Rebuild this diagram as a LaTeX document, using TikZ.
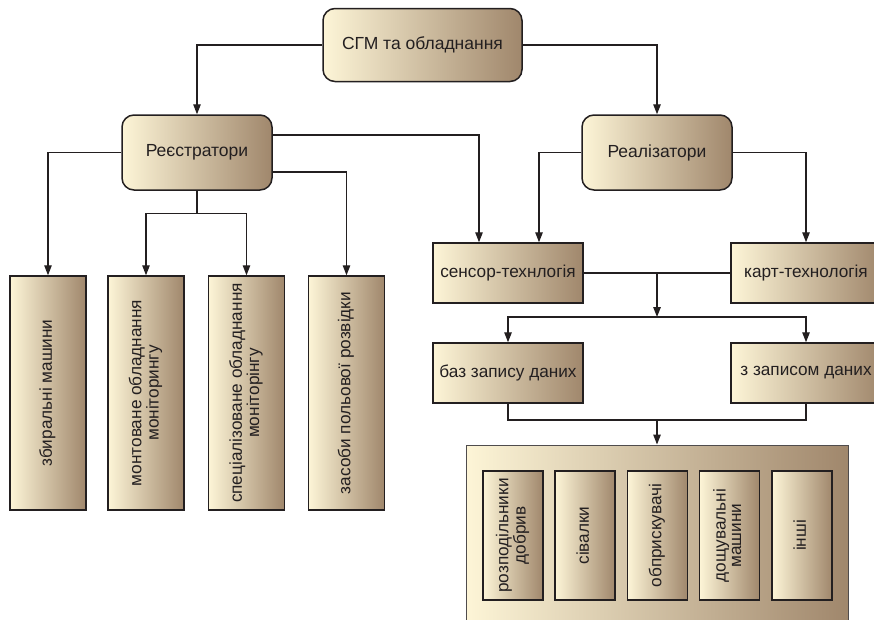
\documentclass[tikz,border=0pt]{standalone}
\usepackage{fontspec}
\setmainfont{Liberation Sans}
\usetikzlibrary{arrows.meta}
\usetikzlibrary{calc}

\definecolor{sandlight}{RGB}{253,245,215}
\definecolor{sanddark}{RGB}{160,135,108}
\definecolor{inkgray}{RGB}{35,31,32}

\newcommand{\vlab}[1]{\rotatebox{90}{\begin{tabular}{@{}c@{}}#1\end{tabular}}}

\tikzset{
  box/.style={draw=inkgray, line width=1.5pt, left color=sandlight, right color=sanddark,
    text=inkgray, inner sep=0pt, font=\fontsize{17.2}{15.5}\selectfont},
  rbox/.style={box, rounded corners=12pt, minimum width=150pt, minimum height=75pt,
    font=\fontsize{17.5}{16}\selectfont},
  hbox/.style={box, minimum width=150pt, minimum height=60pt},
  vbox/.style={box, minimum width=76pt, minimum height=234pt},
  sbox/.style={box, minimum width=60pt, minimum height=129pt},
  conn/.style={draw=inkgray, line width=1.3pt},
  arr/.style={conn, -{Triangle[length=10pt,width=7.5pt]}},
}

\begin{document}
\begin{tikzpicture}[x=1pt, y=-1pt]
  \clip (0,0) rectangle (874,619);

  \node[rbox, minimum width=199pt, minimum height=73pt] (sgm) at (422.5,45) {СГМ та обладнання};
  \node[rbox] (reg) at (197,152.5) {Реєстратори};
  \node[rbox] (real) at (657,152.5) {Реалізатори};

  % реєстратори
  \foreach \x/\nm/\lab in {48/b1/{збиральні машини},
      146/b2/{монтоване обладнання\\моніторингу},
      246.5/b3/{спеціалізоване обладнання\\моніторінгу},
      346.5/b4/{засоби польової розвідки}}
    \node[vbox] (\nm) at (\x,393) {\vlab{\lab}};

  % реалізатори
  \node[hbox] (sens) at (508,273) {сенсор-технлогія};
  \node[hbox] (kart) at (806,273) {карт-технологія};
  \node[hbox] (baz) at (508,373) {баз запису даних};
  \node[hbox] (zap) at (806,373) {з записом даних};

  \node[draw=inkgray!80, line width=1pt, left color=sandlight, right color=sanddark,
    minimum width=382pt, minimum height=200pt] (big) at (657,545) {};
  \foreach \x/\nm/\lab in {513/m1/{розподільники\\добрив}, 585/m2/{сівалки},
      657.5/m3/{обприскувачі}, 729.5/m4/{дощувальні\\машини}, 802/m5/{інші}}
    \node[sbox] (\nm) at (\x,535.5) {\vlab{\lab}};

  % connectors
  \draw[arr] (sgm.west) -| (reg.north);
  \draw[arr] (sgm.east) -| (real.north);
  \draw[arr] (reg.west) -| (b1.north);
  \draw[arr] ([yshift=17.5pt]reg.east) -| ([xshift=-29pt]sens.north);
  \draw[arr] ([yshift=-19.5pt]reg.east) -| (b4.north);
  \draw[conn] (reg.south) -- ++(0,23) coordinate (regsplit);
  \draw[arr] (regsplit) -| (b2.north);
  \draw[arr] (regsplit) -| (b3.north);

  \draw[arr] (real.west) -| ([xshift=31pt]sens.north);
  \draw[arr] (real.east) -| (kart.north);
  \draw[conn] (sens.east) -- (kart.west);
  \draw[arr] ($(sens.east)!0.5!(kart.west)$) -- ++(0,44) coordinate (techsplit);
  \draw[arr] (techsplit) -| (baz.north);
  \draw[arr] (techsplit) -| (zap.north);

  \coordinate (datajoin) at (657,420);
  \draw[conn] (baz.south) |- (datajoin) -| (zap.south);
  \draw[arr] (datajoin) -- (big.north);
\end{tikzpicture}
\end{document}
